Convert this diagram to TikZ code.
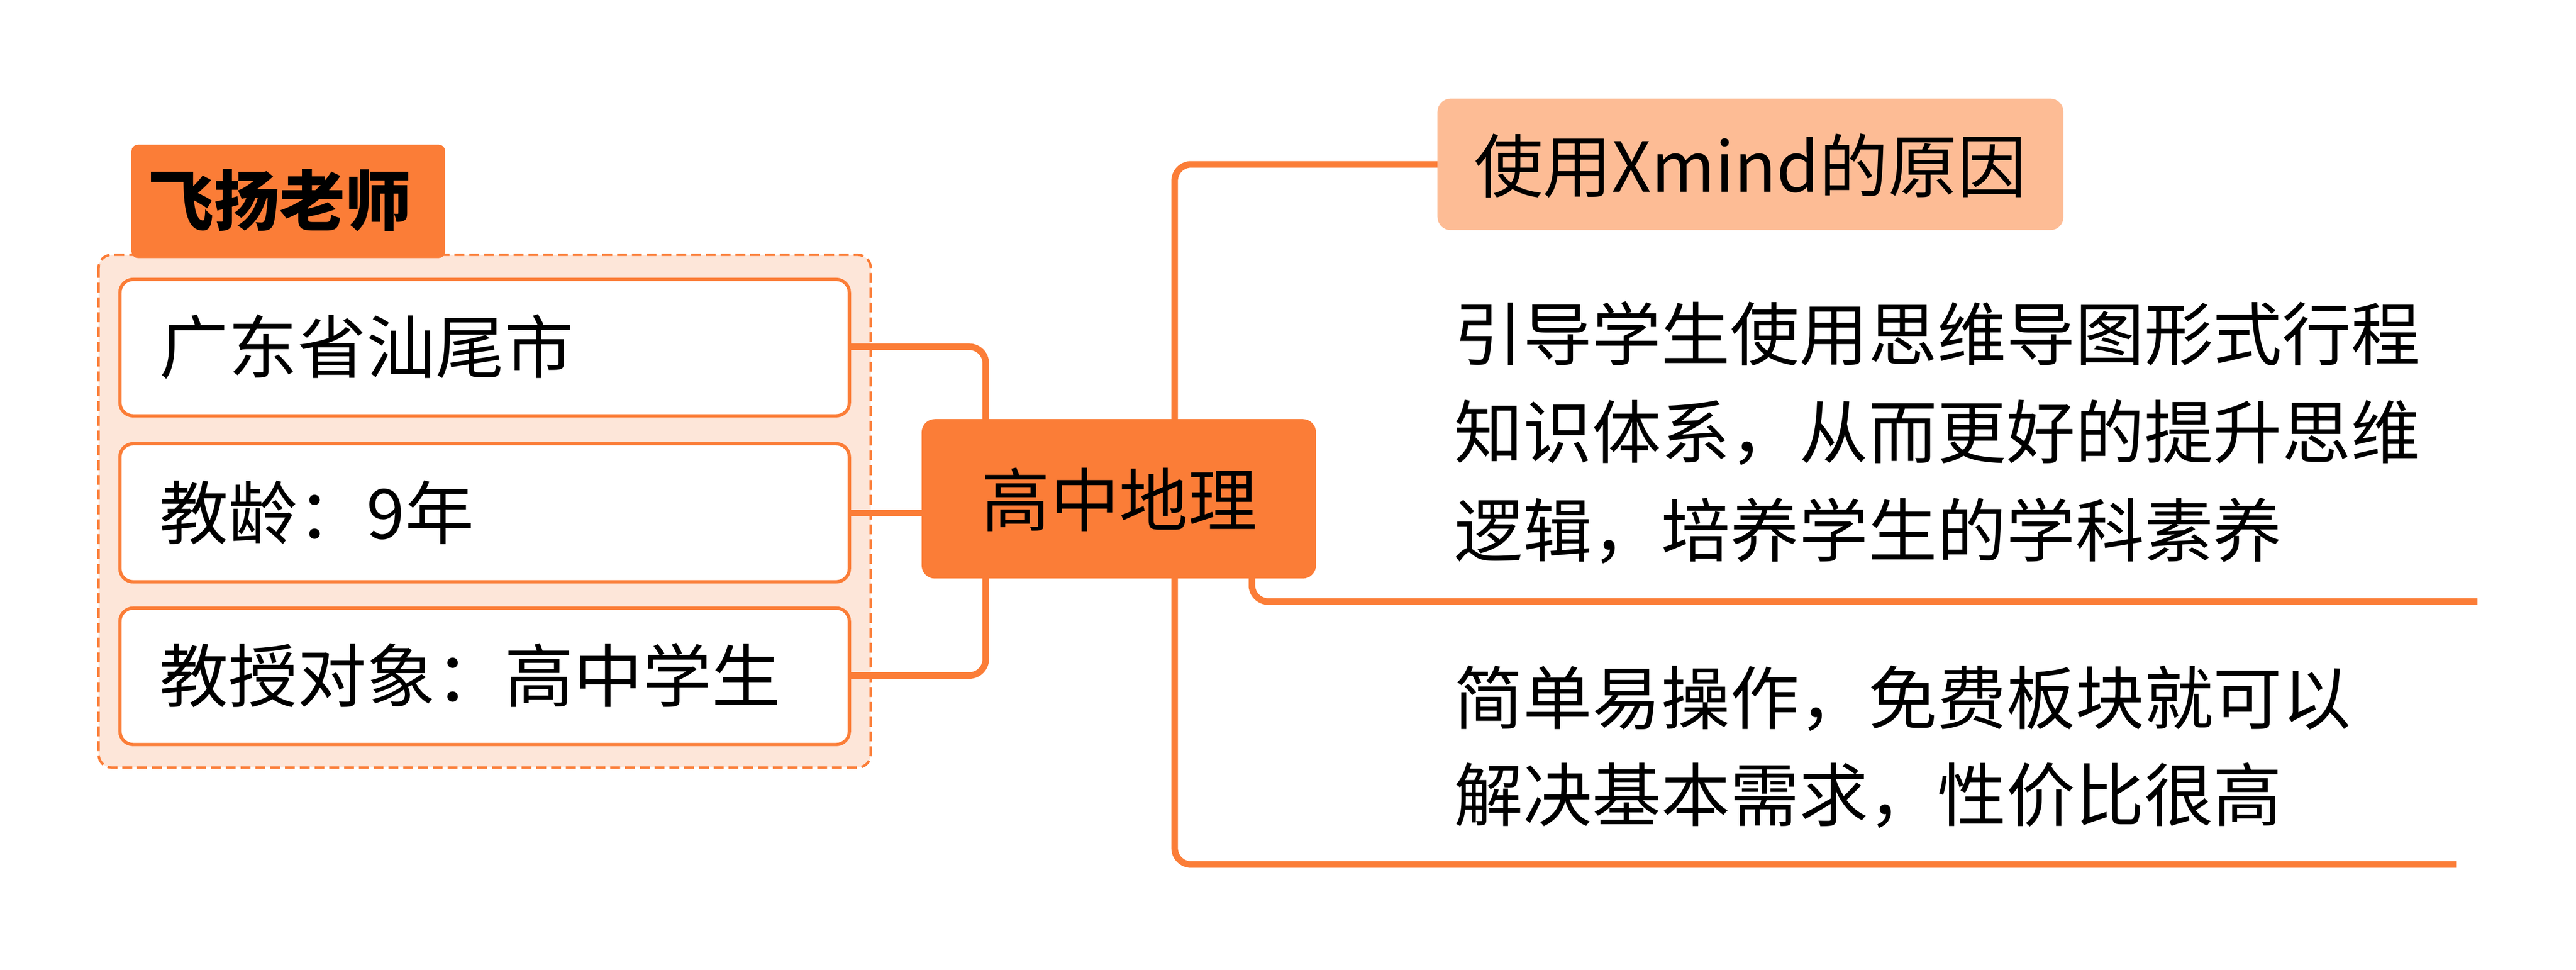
\documentclass[tikz,border=0pt]{standalone}
\usepackage{fontspec}
\setmainfont{Noto Sans CJK SC}
\begin{document}
\begin{tikzpicture}[x=1pt,y=-1pt,
  txt/.style={anchor=west, inner sep=0pt, font=\fontsize{42}{50}\selectfont}]
\definecolor{corange}{HTML}{FB7D37}
\definecolor{clight}{HTML}{FDE6D9}
\definecolor{cpeach}{HTML}{FDBC95}
\tikzset{conn/.style={draw=corange, line width=4pt, rounded corners=10pt},
  leaf/.style={draw=corange, fill=white, line width=2pt, rounded corners=8pt}}
\fill[white] (0,0) rectangle (1568,590);
\useasboundingbox (0,0) rectangle (1568,590);
% group
\draw[corange, fill=clight, dash pattern=on 6pt off 3pt, line width=1.5pt, rounded corners=8pt] (60,155) rectangle (530,467);
\fill[corange, rounded corners=4pt] (80,88) rectangle (271,157);
\node[txt, font=\fontsize{40}{48}\selectfont\bfseries] (title) at (90,122) {飞扬老师};
\draw[leaf] (73,170) rectangle (517,253);
\draw[leaf] (73,270) rectangle (517,354);
\draw[leaf] (73,370) rectangle (517,453);
\node[txt] (a) at (97,211) {广东省汕尾市};
\node[txt] (b) at (97,312) {教龄：9年};
\node[txt] (c) at (97,411) {教授对象：高中学生};
\coordinate (ae) at (517,211);
\coordinate (be) at (517,312);
\coordinate (ce) at (517,411);
% connectors
\draw[conn] (ae) -- (600,211) -- (600,411) -- (ce);
\draw[conn] (be) -- (600,312);
\coordinate (r1) at (875,100);
\coordinate (r2) at (1508,366);
\coordinate (r3) at (1495,526);
\draw[conn] (715,300) -- (715,100) -- (r1);
\draw[conn] (762,300) -- (762,366) -- (r2);
\draw[conn] (715,300) -- (715,526) -- (r3);
% central
\fill[corange, rounded corners=8pt] (561,255) rectangle (801,352);
\node[txt] (center) at (597,304) {高中地理};
% right
\fill[cpeach, rounded corners=8pt] (875,60) rectangle (1256,140);
\node[txt] (x) at (897,101) {使用Xmind的原因};
\node[txt] (t1) at (885,203) {引导学生使用思维导图形式行程};
\node[txt] (t2) at (885,263) {知识体系，从而更好的提升思维};
\node[txt] (t3) at (885,323) {逻辑，培养学生的学科素养};
\node[txt] (u1) at (885,425) {简单易操作，免费板块就可以};
\node[txt] (u2) at (885,484) {解决基本需求，性价比很高};
\end{tikzpicture}
\end{document}
